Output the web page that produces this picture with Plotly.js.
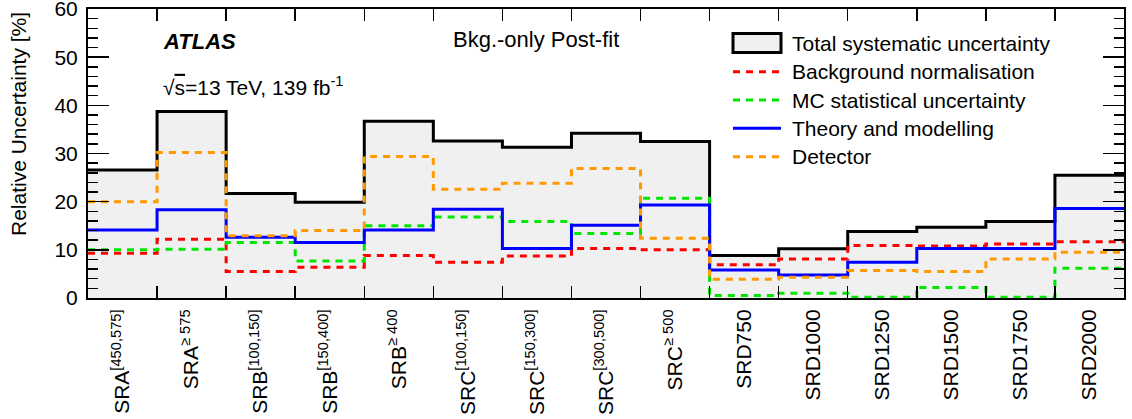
<!DOCTYPE html>
<html><head><meta charset="utf-8">
<script src="https://cdn.plot.ly/plotly-3.0.1.min.js"></script>
<style>html,body{margin:0;padding:0;background:#fff}</style>
</head><body><div id="chart" style="width:1132px;height:419px"></div>
<script>
// ---- data ----
const regions = ['SRA<sup>[450,575]</sup>', 'SRA<sup>≥ 575</sup>', 'SRB<sup>[100,150]</sup>', 'SRB<sup>[150,400]</sup>', 'SRB<sup>≥ 400</sup>',
  'SRC<sup>[100,150]</sup>', 'SRC<sup>[150,300]</sup>', 'SRC<sup>[300,500]</sup>', 'SRC<sup>≥ 500</sup>',
  'SRD750', 'SRD1000', 'SRD1250', 'SRD1500', 'SRD1750', 'SRD2000'];
const totalSyst = [26.6, 38.7, 21.7, 19.9, 36.7, 32.6, 31.3, 34.2, 32.5, 8.8, 10.2, 13.8, 14.7, 15.9, 25.5];
const bkgNorm   = [9.3, 12.2, 5.5, 6.4, 8.8, 7.4, 8.7, 10.3, 10.0, 6.9, 8.1, 10.9, 10.8, 11.2, 11.7];
const mcStat    = [10.0, 10.1, 11.5, 7.7, 15.0, 16.8, 15.9, 13.4, 20.7, 0.5, 1.0, 0.15, 2.2, 0.15, 6.2];
const theory    = [14.1, 18.3, 12.6, 11.5, 14.1, 18.4, 10.3, 15.1, 19.3, 5.8, 4.8, 7.4, 10.3, 10.3, 18.6];
const detector  = [20.0, 30.2, 12.9, 14.0, 29.4, 22.6, 23.8, 26.9, 12.4, 3.9, 4.3, 5.7, 5.5, 8.1, 9.5];
const yTickVals = [0, 10, 20, 30, 40, 50, 60];
const legendNames = ['Total systematic uncertainty', 'Background normalisation', 'MC statistical uncertainty', 'Theory and modelling', 'Detector'];

// ---- helpers ----
const nBins = regions.length;
const edges = Array.from({length: nBins + 1}, (_, i) => i);
const centers = Array.from({length: nBins}, (_, i) => i + 0.5);
const stepY = v => v.concat([v[v.length - 1]]);

const FONT = 'Liberation Sans, Arial, Helvetica, sans-serif';
const colors = {total: '#000000', bkg: '#ff0000', mc: '#00e600', th: '#0000ff', det: '#ff9900'};
const dash = '7px,6px';

function stepTrace(vals, name, color, d, extra) {
  return Object.assign({
    type: 'scatter', mode: 'lines', x: edges, y: stepY(vals), name: name,
    line: {shape: 'hv', color: color, width: 3, dash: d},
    showlegend: false, hoverinfo: 'x+y'
  }, extra || {});
}

const traces = [
  stepTrace(totalSyst, legendNames[0], colors.total, 'solid', {fill: 'tozeroy', fillcolor: 'rgb(240,240,240)'}),
  stepTrace(bkgNorm, legendNames[1], colors.bkg, dash),
  stepTrace(mcStat, legendNames[2], colors.mc, dash),
  stepTrace(theory, legendNames[3], colors.th, 'solid'),
  stepTrace(detector, legendNames[4], colors.det, dash)
];

// ---- layout geometry (pixels -> paper) ----
const W = 1132, H = 419, mL = 88, mR = 8, mT = 9, mB = 121;
const pw = W - mL - mR, ph = H - mT - mB;
const px = x => (x - mL) / pw;
const py = y => (H - mB - y) / ph;

const legRows = [43, 71.7, 100, 128.3, 156.7];
const legX0 = 733, legX1 = 781, legTX = 790;
const shapes = [
  {type: 'rect', xref: 'paper', yref: 'paper', x0: px(legX0), x1: px(legX1), y0: py(52.5), y1: py(33.5),
   fillcolor: 'rgb(240,240,240)', line: {color: '#000', width: 3}}
];
const legStyles = [null, [colors.bkg, dash], [colors.mc, dash], [colors.th, 'solid'], [colors.det, dash]];
for (let i = 1; i < 5; i++) {
  shapes.push({type: 'line', xref: 'paper', yref: 'paper', x0: px(legX0), x1: px(legX1), y0: py(legRows[i]), y1: py(legRows[i]),
    line: {color: legStyles[i][0], width: 3, dash: legStyles[i][1]}});
}
const annotations = legendNames.map((t, i) => ({
  xref: 'paper', yref: 'paper', x: px(legTX), y: py(legRows[i]), xanchor: 'left', yanchor: 'middle',
  text: t, showarrow: false, font: {family: FONT, size: 21, color: '#000'}
}));
annotations.push(
  {xref: 'paper', yref: 'paper', x: px(161), y: py(42), xanchor: 'left', yanchor: 'middle', showarrow: false,
   text: '<b><i>ATLAS</i></b>', font: {family: FONT, size: 22, color: '#000'}},
  {xref: 'paper', yref: 'paper', x: px(451), y: py(40), xanchor: 'left', yanchor: 'middle', showarrow: false,
   text: 'Bkg.-only Post-fit', font: {family: FONT, size: 22, color: '#000'}},
  {xref: 'paper', yref: 'paper', x: px(161), y: py(86), xanchor: 'left', yanchor: 'middle', showarrow: false,
   text: '√<span style="text-decoration:overline">s</span>=13 TeV, 139 fb<sup>-1</sup>', font: {family: FONT, size: 21, color: '#000'}},
  {xref: 'paper', yref: 'paper', x: 0, xshift: -70, y: 1, yshift: -1, xanchor: 'center', yanchor: 'top', showarrow: false,
   textangle: -90, text: 'Relative Uncertainty [%]', font: {family: FONT, size: 21, color: '#000'}}
);

const layout = {
  width: W, height: H,
  margin: {l: mL, r: mR, t: mT, b: mB, pad: 0},
  paper_bgcolor: '#fff', plot_bgcolor: '#fff',
  font: {family: FONT, size: 21, color: '#000'},
  showlegend: false,
  xaxis: {
    range: [0, nBins], tickmode: 'array', tickvals: centers, ticktext: regions, tickangle: -90,
    ticks: '', showline: true, linecolor: '#000', linewidth: 2, mirror: 'ticks',
    showgrid: false, zeroline: false, tickfont: {family: FONT, size: 21, color: '#000'},
    ticklabelstandoff: 1, ticklabeloverflow: 'allow',
    minor: {tickmode: 'array', tickvals: edges.slice(1, nBins), ticks: 'inside', ticklen: 12, tickwidth: 1.5, tickcolor: '#000', showgrid: false}
  },
  yaxis: {
    range: [0, 60], tickmode: 'array', tickvals: yTickVals, ticks: 'inside', ticklen: 21, tickwidth: 1.5, tickcolor: '#000',
    showline: true, linecolor: '#000', linewidth: 2, mirror: 'ticks',
    showgrid: false, zeroline: false, tickfont: {family: FONT, size: 21, color: '#000'},
    ticklabelstandoff: 4, ticklabeloverflow: 'allow',
    minor: {dtick: 2, ticks: 'inside', ticklen: 10, tickwidth: 1.5, tickcolor: '#000', showgrid: false}
  },
  shapes: shapes,
  annotations: annotations
};

Plotly.newPlot('chart', traces, layout, {displayModeBar: false, staticPlot: true});
</script>
</body></html>
